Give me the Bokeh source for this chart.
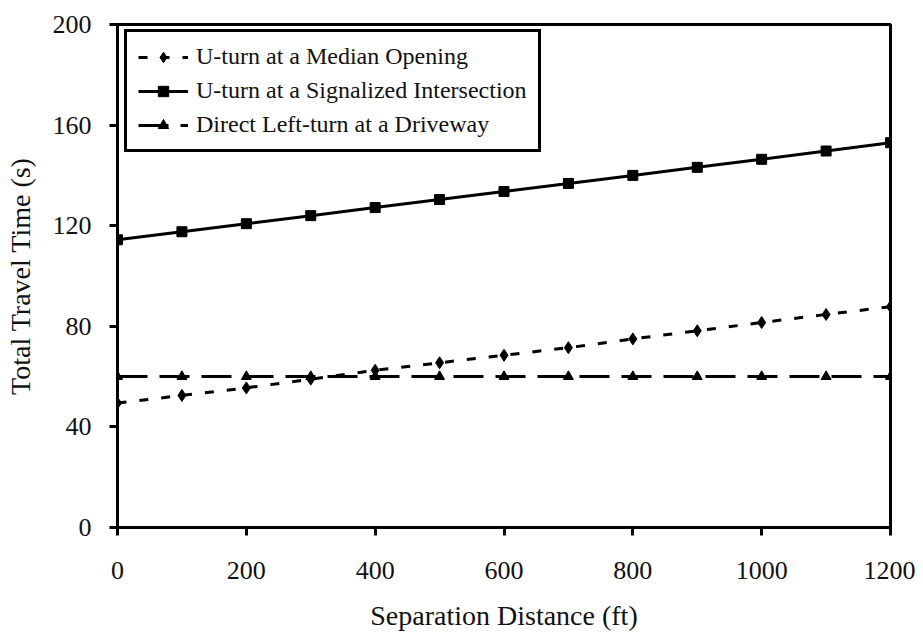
from bokeh.plotting import figure
from bokeh.models import FixedTicker, Range1d, Legend, LegendItem
from bokeh.embed import file_html
from bokeh.resources import INLINE

# ---- data ----
distance = [0, 100, 200, 300, 400, 500, 600, 700, 800, 900, 1000, 1100, 1200]
median_opening = [49.5, 52.5, 55.5, 59.0, 62.5, 65.5, 68.5, 71.5, 75.0, 78.2, 81.5, 84.7, 87.8]
signalized = [114.4, 117.6, 120.8, 124.0, 127.2, 130.4, 133.6, 136.8, 140.0, 143.2, 146.4, 149.7, 153.0]
driveway = [60, 60, 60, 60, 60, 60, 60, 60, 60, 60, 60, 60, 60]

series_labels = ["U-turn at a Median Opening",
                 "U-turn at a Signalized Intersection",
                 "Direct Left-turn at a Driveway"]
x_ticks = [0, 200, 400, 600, 800, 1000, 1200]
y_ticks = [0, 40, 80, 120, 160, 200]

FONT = "Liberation Serif"
TXT = "#111111"

p = figure(width=915, height=635, output_backend="svg", toolbar_location=None,
           x_range=Range1d(0, 1200), y_range=Range1d(0, 200),
           min_border_left=117, min_border_right=25,
           min_border_top=24, min_border_bottom=108)

p.grid.visible = False
p.outline_line_color = "black"
p.outline_line_width = 3
p.outline_line_alpha = 1.0
p.background_fill_color = "white"
p.border_fill_color = "white"

for ax in (p.xaxis[0], p.yaxis[0]):
    ax.axis_line_width = 3
    ax.axis_line_color = "black"
    ax.major_tick_line_width = 3
    ax.major_tick_line_color = "black"
    ax.major_tick_out = 8
    ax.major_tick_in = 0
    ax.minor_tick_out = 0
    ax.minor_tick_in = 0
    ax.major_label_text_font = FONT
    ax.major_label_text_font_size = "26px"
    ax.major_label_text_color = TXT
    ax.axis_label_text_font = FONT
    ax.axis_label_text_font_size = "28px"
    ax.axis_label_text_font_style = "normal"
    ax.axis_label_text_color = TXT

p.xaxis.ticker = FixedTicker(ticks=x_ticks)
p.yaxis.ticker = FixedTicker(ticks=y_ticks)
p.xaxis.axis_label = "Separation Distance (ft)"
p.yaxis.axis_label = "Total Travel Time (s)"
p.xaxis.major_label_standoff = 26
p.xaxis.axis_label_standoff = 18
p.yaxis.major_label_standoff = 18
p.yaxis.axis_label_standoff = 14

# median opening
l1 = p.line(distance, median_opening, line_color="black", line_width=3, line_dash="9 13")
m1 = p.scatter(distance, median_opening, marker="diamond", size=12,
               fill_color="black", line_color="black")
# signalized
l2 = p.line(distance, signalized, line_color="black", line_width=3)
m2 = p.scatter(distance, signalized, marker="square", size=10,
               fill_color="black", line_color="black")
# driveway
l3 = p.line(distance, driveway, line_color="black", line_width=3, line_dash="30 12")
m3 = p.scatter(distance, driveway, marker="triangle", size=10,
               fill_color="black", line_color="black")

legend = Legend(items=[LegendItem(label=series_labels[0], renderers=[l1, m1]),
                       LegendItem(label=series_labels[1], renderers=[l2, m2]),
                       LegendItem(label=series_labels[2], renderers=[l3, m3])],
                location=(7, 375))
legend.label_text_font = FONT
legend.label_text_font_size = "24px"
legend.label_text_color = TXT
legend.glyph_width = 50
legend.glyph_height = 26
legend.label_height = 26
legend.label_standoff = 8
legend.spacing = 7
legend.padding = 11
legend.margin = 0
legend.border_line_color = "black"
legend.border_line_width = 3
legend.border_line_alpha = 1.0
legend.background_fill_alpha = 1.0
p.add_layout(legend, "center")

open("out.html", "w").write(file_html(p, INLINE))
